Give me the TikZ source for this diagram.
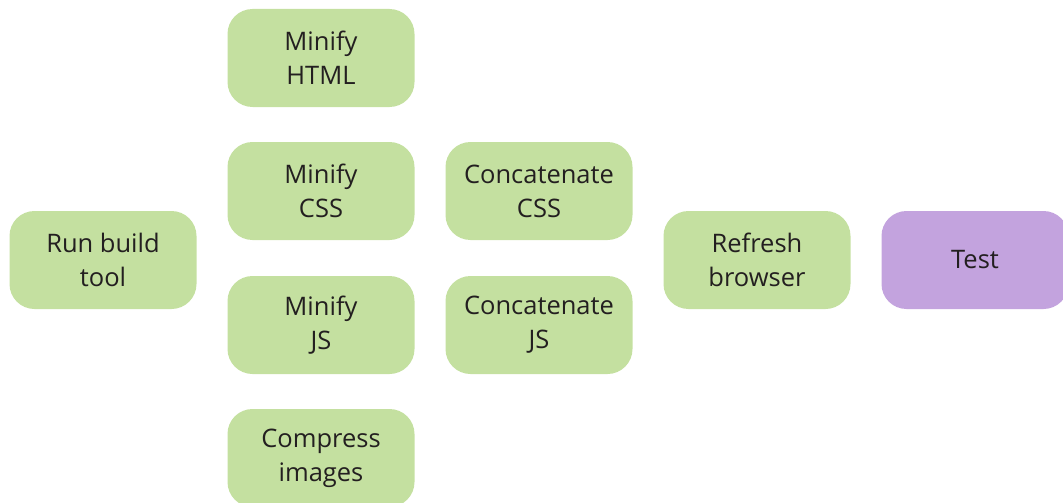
\documentclass[tikz,border=0pt]{standalone}
\usepackage{fontspec}
\setmainfont{Open Sans}
\definecolor{taskgreen}{HTML}{C4E0A0}
\definecolor{testpurple}{HTML}{C3A3DE}
\definecolor{labeltext}{HTML}{231F20}
\begin{document}
\begin{tikzpicture}[x=1pt,y=-1pt]
		\tikzstyle{task}=[rectangle,rounded corners=25pt,fill=taskgreen,minimum width=187pt,minimum height=98pt,align=center,text=labeltext,font=\fontsize{25.5}{34}\selectfont]
		\tikzstyle{final}=[task,fill=testpurple]
		\useasboundingbox (0,0) rectangle (1063,503);
		\begin{scope}
			\node [task] (build) at (103,260) {Run build\\tool};
			\node [task] (minhtml) at (321,58) {Minify\\HTML};
			\node [task] (mincss) at (321,191) {Minify\\CSS};
			\node [task] (minjs) at (321,325) {Minify\\JS};
			\node [task] (images) at (321,458) {Compress\\images};
			\node [task] (catcss) at (539,191) {Concatenate\\CSS};
			\node [task] (catjs) at (539,325) {Concatenate\\JS};
			\node [task] (refresh) at (757,260) {Refresh\\browser};
			\node [final] (test) at (975,260) {Test};
		\end{scope}
\end{tikzpicture}
\end{document}
